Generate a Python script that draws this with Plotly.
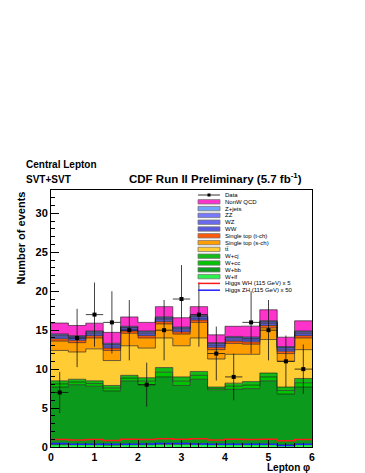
import numpy as np
import plotly.graph_objects as go

# bin edges of lepton phi, 15 bins of 0.4
edges = [0.0, 0.4, 0.8, 1.2, 1.6, 2.0, 2.4, 2.8, 3.2, 3.6, 4.0, 4.4, 4.8, 5.2, 5.6, 6.0]

data = [7, 14, 17, 16, 15, 8, 15, 19, 17, 12, 9, 16, 15, 11, 10]

# backgrounds, listed bottom -> top of the stack
w_lf = [0.3, 0.3, 0.3, 0.25, 0.3, 0.3, 0.35, 0.35, 0.35, 0.3, 0.3, 0.3, 0.3, 0.25, 0.3]
w_bb = [7.4, 7.7, 7.5, 6.95, 8.2, 7.7, 8.65, 7.55, 8.35, 7.0, 7.1, 7.2, 8.2, 6.55, 7.4]
w_cc = [0.4, 0.35, 0.35, 0.35, 0.35, 0.45, 0.6, 0.55, 0.5, 0.2, 0.4, 0.45, 0.5, 0.45, 0.55]
w_cj = [0.4, 0.35, 0.35, 0.35, 0.35, 0.45, 0.6, 0.55, 0.5, 0.2, 0.4, 0.45, 0.5, 0.45, 0.55]
ttbar = [3.9, 3.5, 4.1, 3.2, 3.8, 3.8, 3.8, 4.0, 4.3, 3.6, 3.7, 3.5, 4.3, 3.3, 3.7]
stop_s = [1.2, 1.2, 1.4, 1.3, 1.6, 1.3, 1.8, 1.5, 2.0, 1.2, 1.4, 1.3, 1.5, 1.0, 1.5]
stop_t = [0.3, 0.3, 0.3, 0.3, 0.3, 0.3, 0.3, 0.3, 0.3, 0.3, 0.3, 0.3, 0.3, 0.3, 0.3]
ww = [0.25, 0.25, 0.25, 0.25, 0.25, 0.25, 0.25, 0.25, 0.25, 0.25, 0.25, 0.25, 0.25, 0.25, 0.25]
wz = [0.2, 0.2, 0.2, 0.2, 0.2, 0.2, 0.2, 0.2, 0.2, 0.2, 0.2, 0.2, 0.2, 0.2, 0.2]
zz = [0.05, 0.05, 0.05, 0.05, 0.05, 0.05, 0.05, 0.05, 0.05, 0.05, 0.05, 0.05, 0.05, 0.05, 0.05]
z_jets = [0.12, 0.1, 0.1, 0.12, 0.1, 0.1, 0.12, 0.1, 0.12, 0.1, 0.1, 0.12, 0.12, 0.1, 0.1]
nonw_qcd = [1.4, 1.3, 1.0, 1.4, 1.2, 1.1, 1.3, 1.2, 1.1, 1.0, 1.3, 1.4, 1.4, 1.2, 1.3]

higgs_wh_x5 = [0.95, 0.9, 0.95, 0.85, 1.0, 0.95, 1.05, 1.0, 1.05, 0.9, 1.0, 0.95, 1.0, 0.8, 0.95]
higgs_zh_x50 = [0.45, 0.35, 0.35, 0.35, 0.35, 0.4, 0.45, 0.45, 0.4, 0.35, 0.35, 0.35, 0.35, 0.2, 0.35]

stack = [
    ('W+lf', w_lf, '#2bf04e'),
    ('W+bb', w_bb, '#0c9a1c'),
    ('W+cc', w_cc, '#00c400'),
    ('W+cj', w_cj, '#14bb14'),
    ('tt\u0304', ttbar, '#ffcc33'),
    ('Single top (s-ch)', stop_s, '#ff9e00'),
    ('Single top (t-ch)', stop_t, '#ff5a0a'),
    ('WW', ww, '#5a5ae0'),
    ('WZ', wz, '#6a6af0'),
    ('ZZ', zz, '#7878ff'),
    ('Z+jets', z_jets, '#70a4ff'),
    ('NonW QCD', nonw_qcd, '#ff33cc'),
]

FONT = 'Liberation Sans, Arial, sans-serif'
centers = [(a + b) / 2 for a, b in zip(edges[:-1], edges[1:])]


def step(vals):
    return list(vals) + [vals[-1]]


fig = go.Figure()

running = np.zeros(len(data))
for i, (name, vals, color) in enumerate(stack):
    running = running + np.array(vals)
    fig.add_trace(go.Scatter(
        x=edges, y=step(running), mode='lines', line_shape='hv',
        line=dict(color='rgba(30,30,30,0.8)', width=0.8),
        fill='tozeroy' if i == 0 else 'tonexty', fillcolor=color,
        name=name, showlegend=False))

fig.add_trace(go.Scatter(x=edges, y=step(higgs_wh_x5), mode='lines', line_shape='hv',
                         line=dict(color='#ff1a1a', width=1.5), showlegend=False))
fig.add_trace(go.Scatter(x=edges, y=step(higgs_zh_x50), mode='lines', line_shape='hv',
                         line=dict(color='#2020ff', width=1.5), showlegend=False))

fig.add_trace(go.Scatter(
    x=centers, y=data, mode='markers',
    marker=dict(symbol='square', size=4, color='black'),
    error_y=dict(type='data', array=np.sqrt(data), color='rgba(20,20,20,0.8)',
                 thickness=1, width=0),
    error_x=dict(type='constant', value=0.2, color='rgba(20,20,20,0.8)',
                 thickness=1, width=0),
    showlegend=False))

# hand-made legend (ROOT-style, very compact)
L, T, H = 43, 182, 257
W = 365 - 43 - 61


def xp(px):
    return (px - L) / W


def yp(py):
    return (T + H - py) / H


entries = [('Data', 'data', None)]
entries += [(name, 'box', color) for name, vals, color in reversed(stack)]
entries += [('Higgs WH (115 GeV) x 5', 'line', '#ff1a1a'),
            ('Higgs ZH (115 GeV) x 50', 'line', '#2020ff')]

shapes = []
annotations = []
for k, (label, kind, color) in enumerate(entries):
    y = 187 + 6.8 * k
    if kind == 'box':
        shapes.append(dict(type='rect', xref='paper', yref='paper',
                           x0=xp(190), x1=xp(212), y0=yp(y + 2.2), y1=yp(y - 2.2),
                           fillcolor=color, line=dict(color='#777', width=0.8)))
    elif kind == 'line':
        shapes.append(dict(type='line', xref='paper', yref='paper',
                           x0=xp(190), x1=xp(212), y0=yp(y), y1=yp(y),
                           line=dict(color=color, width=1.5)))
    else:
        shapes.append(dict(type='line', xref='paper', yref='paper',
                           x0=xp(190), x1=xp(212), y0=yp(y), y1=yp(y),
                           line=dict(color='#333', width=1)))
        shapes.append(dict(type='rect', xref='paper', yref='paper',
                           x0=xp(199.5), x1=xp(202.5), y0=yp(y + 1.5), y1=yp(y - 1.5),
                           fillcolor='black', line=dict(width=0)))
    annotations.append(dict(text=label, xref='paper', yref='paper',
                            x=xp(215), y=yp(y), xanchor='left', yanchor='middle',
                            showarrow=False, font=dict(family=FONT, size=6, color='black')))

annotations += [
    dict(text='Central Lepton', xref='paper', yref='paper', x=xp(16), y=yp(157),
         xanchor='left', yanchor='middle', showarrow=False,
         font=dict(family=FONT, size=10, color='black', weight='bold')),
    dict(text='SVT+SVT', xref='paper', yref='paper', x=xp(16), y=yp(172),
         xanchor='left', yanchor='middle', showarrow=False,
         font=dict(family=FONT, size=10, color='black', weight='bold')),
    dict(text='CDF Run II Preliminary (5.7 fb<sup>-1</sup>)', xref='paper', yref='paper',
         x=xp(296), y=yp(170), xanchor='right', yanchor='middle', showarrow=False,
         font=dict(family=FONT, size=11.5, color='black', weight='bold')),
    dict(text='Number of events', xref='paper', yref='paper', x=xp(12), y=1,
         xanchor='center', yanchor='top', textangle=-90, showarrow=False,
         font=dict(family=FONT, size=11, color='black', weight='bold')),
    dict(text='Lepton \u03c6', xref='paper', yref='paper', x=1, y=yp(459),
         xanchor='right', yanchor='middle', showarrow=False,
         font=dict(family=FONT, size=10, color='black', weight='bold')),
]

fig.update_layout(
    width=365, height=473,
    margin=dict(l=43, r=61, t=182, b=34),
    paper_bgcolor='white', plot_bgcolor='white',
    shapes=shapes, annotations=annotations,
    showlegend=False,
)
fig.update_xaxes(range=[0, 6], tick0=0, dtick=1, ticks='inside', ticklen=7, tickwidth=1,
                 tickcolor='black', showline=True, linecolor='black', linewidth=1, mirror=True,
                 showgrid=False, zeroline=False, automargin=False,
                 tickfont=dict(family=FONT, size=10.5, color='black', weight='bold'),
                 minor=dict(ticks='inside', ticklen=4, dtick=0.2, tickcolor='black'))
fig.update_yaxes(range=[0, 33], tick0=0, dtick=5, ticks='inside', ticklen=8, tickwidth=1,
                 tickcolor='black', showline=True, linecolor='black', linewidth=1, mirror=True,
                 showgrid=False, zeroline=False, automargin=False,
                 tickfont=dict(family=FONT, size=11, color='black', weight='bold'),
                 minor=dict(ticks='inside', ticklen=4, dtick=1, tickcolor='black'))

fig.write_html('out.html')
